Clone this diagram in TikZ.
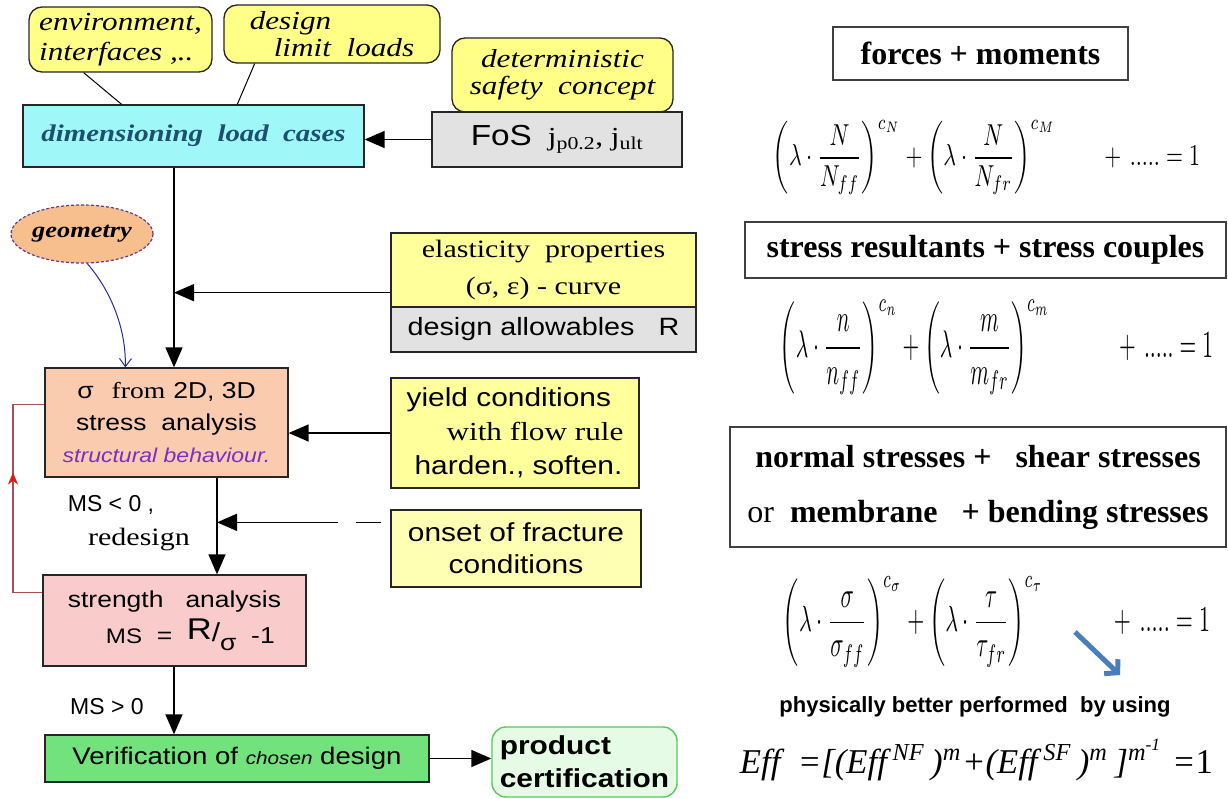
\documentclass[tikz,border=0pt]{standalone}
\usepackage{amsmath}
\usepackage{graphicx}
\usepackage{fontspec}
\setmainfont{Liberation Serif}
\setsansfont{Liberation Sans}
\newfontfamily\Ls{Liberation Sans}[FakeStretch=1.15]
\newfontfamily\Lr{Liberation Serif}[FakeStretch=1.2]
\usetikzlibrary{arrows.meta,calc,shapes.geometric,decorations.markings}
\newcommand\fsz[2]{\fontsize{#1pt}{#2pt}\selectfont}
\definecolor{noteY}{HTML}{FFFF88}
\definecolor{boxY}{HTML}{FFFF9C}
\definecolor{fracY}{HTML}{FFFFB4}
\definecolor{cyanF}{HTML}{9FF7F7}
\definecolor{cyanT}{HTML}{1D4F6E}
\definecolor{grayF}{HTML}{E2E2E2}
\definecolor{geoF}{HTML}{F7BF8E}
\definecolor{geoB}{HTML}{6A3A8A}
\definecolor{sigF}{HTML}{FBCBB0}
\definecolor{strF}{HTML}{F9CBCB}
\definecolor{verF}{HTML}{72E27C}
\definecolor{prodF}{HTML}{E6FBE6}
\definecolor{prodB}{HTML}{5CC85C}
\definecolor{purp}{HTML}{7A2FC0}
\definecolor{fbline}{HTML}{A85050}
\definecolor{fbarr}{HTML}{E01818}
\definecolor{geoA}{HTML}{2A2AB0}
\definecolor{bluA}{HTML}{4A7EBB}
\begin{document}
\begin{tikzpicture}[x=1pt,y=-1pt,
 box/.style={draw=black!85,line width=1.3pt,inner sep=0pt,align=center},
 note/.style={box,rounded corners=13pt,fill=noteY},
 arr/.style={-{Triangle[length=20pt,width=17pt]},line width=1.5pt},
 rbox/.style={draw=black!75,line width=1.6pt,fill=white,inner sep=0pt,align=center,font=\bfseries\fsz{32}{55}},
 lbl/.style={inner sep=0pt,align=center},
]
\fill[white] (0,0) rectangle (1228,798);
\useasboundingbox (0,0) rectangle (1228,798);

% ---------------- left flow ----------------
\node[note,minimum width=183pt,minimum height=65pt,align=left,font=\Lr\itshape\fsz{26}{30}] (env) at (120.5,39.5) {environment,\\interfaces ,..};
\node[note,minimum width=216pt,minimum height=58pt,align=left,font=\Lr\itshape\fsz{26}{27}] (dll) at (332,34) {design\\\hspace*{24pt}limit\ \ loads};
\node[note,minimum width=221pt,minimum height=74pt,font=\Lr\itshape\fsz{26}{27}] (det) at (562.5,75) {deterministic\\safety\ \ concept};

\node[box,fill=cyanF,minimum width=341pt,minimum height=62pt,font=\Lr\bfseries\itshape\fsz{24}{28},text=cyanT] (cyan) at (193.5,136) {dimensioning\ \ load\ \ cases};
\node[box,fill=grayF,minimum width=250pt,minimum height=55pt] (fos) at (557,139.5) {{\Ls\fsz{29}{30}FoS}\hspace{16pt}{\Lr\fsz{26}{30}j\textsubscript{p0.2}, j\textsubscript{ult}}};

\node[ellipse,draw=geoB,dash pattern=on 3pt off 2pt,line width=1.2pt,fill=geoF,minimum width=142pt,minimum height=58pt,inner sep=0pt,font=\Lr\bfseries\itshape\fsz{22}{24}] (geo) at (82,234) {geometry};

\node[box,fill=boxY,minimum width=305pt,minimum height=74pt,font=\Lr\fsz{25}{37}] (elas) at (543.5,270) {elasticity\ \ properties\\(σ, ε) - curve};
\node[box,fill=grayF,minimum width=305pt,minimum height=45pt,font=\Ls\fsz{25}{30}] (allow) at (543.5,329.5) {design allowables\hspace{24pt}R};

\node[box,fill=sigF,minimum width=243pt,minimum height=109pt,font=\Ls\fsz{23}{32}] (sig) at (166.5,422.5) {σ\hspace{18pt}{\Lr from}\hspace{8pt}2D, 3D\\stress\ \ analysis\\{\itshape\fsz{20}{32}\color{purp}structural behaviour.}};

\node[box,fill=boxY,minimum width=248pt,minimum height=110pt,align=left,font=\Ls\fsz{26}{34}] (yield) at (515,433) {yield conditions\\\hspace*{40pt}{\Lr with flow rule}\\\hspace*{8pt}harden., soften.};

\node[box,fill=fracY,minimum width=250pt,minimum height=77pt,font=\Ls\fsz{26}{32}] (frac) at (516,548.5) {onset of fracture\\conditions};

\node[box,fill=strF,minimum width=263pt,minimum height=91pt,align=left,font=\Ls\fsz{23}{36}] (str) at (174.5,620.5) {strength\ \ \ analysis\\\hspace*{38pt}{\fsz{21}{36}MS}\ \ =\ \ \raisebox{4pt}{\fsz{30}{36}R}\raisebox{2pt}{\fsz{26}{36}/}\raisebox{-7pt}{σ}\ \ -1};

\node[box,fill=verF,minimum width=384pt,minimum height=47pt,font=\Ls\fsz{24}{28}] (ver) at (237,758.5) {Verification of {\itshape\fsz{18}{28}chosen} design};

\node[box,rounded corners=14pt,draw=prodB,fill=prodF,line width=1.4pt,minimum width=185pt,minimum height=70pt,align=left,font=\Ls\bfseries\fsz{26}{33}] (prod) at (584.5,762) {product\\certification};

\node[lbl,font=\sffamily\fsz{23}{26}] (ms1) at (111,505) {MS < 0 ,};
\node[lbl,font=\Lr\fsz{25}{28}] (rd) at (139,540) {redesign};
\node[lbl,font=\sffamily\fsz{23}{26}] (ms2) at (107,707) {MS > 0};

% connectors
\coordinate (mx) at (174,0);
\coordinate (sx) at (217,0);
\coordinate (fbx) at (13,0);
\draw[line width=1pt] ($(env.south west)!0.30!(env.south east)$) -- ($(cyan.north west)!0.29!(cyan.north east)$);
\draw[line width=1pt] ($(dll.south west)!0.144!(dll.south east)$) -- ($(cyan.north west)!0.628!(cyan.north east)$);
\draw[arr] (fos.west) -- (fos.west -| cyan.east);
\draw[arr] (cyan.south -| mx) -- (sig.north -| mx);
\coordinate (ea) at ($(elas.south west)+(0,-15)$);
\draw[arr] (ea) -- (ea -| mx);
\draw[geoA,line width=1pt,-{Straight Barb[length=8pt,width=12pt]}] (geo.-80) .. controls (112,292) and (126,330) .. ($(sig.north west)+(81,0)$);
\draw[arr] (yield.west) -- (yield.west -| sig.east);
\draw[arr] (sig.south -| sx) -- (str.north -| sx);
\coordinate (fa) at ($(frac.north west)+(0,13)$);
\draw[arr,dash pattern=on 0pt off 9pt on 25pt off 18pt on 400pt] (fa) -- (fa -| sx);
\coordinate (fbA) at ($(str.north west)+(0,18)$);
\coordinate (fbB) at ($(sig.north west)+(0,37)$);
\draw[fbline,line width=1.2pt,postaction={decorate},decoration={markings,mark=at position 0.6 with {\arrow[fbarr]{Stealth[length=12pt,width=10pt]}}}] (fbA) -- (fbA -| fbx) -- (fbB -| fbx) -- (fbB);
\draw[arr] (str.south -| mx) -- (ver.north -| mx);
\draw[arr] (ver.east) -- (ver.east -| prod.west);

% ---------------- right side ----------------
\node[rbox,minimum width=295pt,minimum height=53pt] (fm) at (980.5,53.5) {forces + moments};
\node[inner sep=0pt] (eq1) at (986.5,157.5) {\resizebox*{427pt}{75pt}{$\displaystyle \left(\lambda\cdot\frac{N}{N_{ff}}\right)^{c_N} + \left(\lambda\cdot\frac{N}{N_{fr}}\right)^{c_M}\qquad +\,.....=1$}};
\node[rbox,minimum width=481pt,minimum height=56pt] (sr) at (985.5,250) {stress resultants + stress couples};
\node[inner sep=0pt] (eq2) at (996.5,347.5) {\resizebox*{433pt}{95pt}{$\displaystyle\left(\lambda\cdot\frac{n}{n_{ff}}\right)^{c_n} + \left(\lambda\cdot\frac{m}{m_{fr}}\right)^{c_m}\qquad\quad +\,.....=1$}};
\node[rbox,minimum width=496pt,minimum height=120pt] (ns) at (978,487) {normal stresses +\ \ \ shear stresses\\{\mdseries or}\ \ membrane\ \ \ + bending stresses};
\node[inner sep=0pt] (eq3) at (996.5,622) {\resizebox*{427pt}{90pt}{$\displaystyle\left(\lambda\cdot\frac{\sigma}{\sigma_{ff}}\right)^{c_\sigma} + \left(\lambda\cdot\frac{\tau}{\tau_{fr}}\right)^{c_\tau}\qquad\quad +\,.....=1$}};
\coordinate (ba1) at (1075,632);
\coordinate (ba2) at (1120,675);
\draw[bluA,line width=5pt,-{Straight Barb[length=9pt,width=20pt]}] (ba1) -- (ba2);
\node[lbl,font=\sffamily\bfseries\fsz{22}{26}] (phys) at (975,707) {physically better performed\ \ by using};
\node[inner sep=0pt] (eff) at (976.5,760) {\resizebox*{473pt}{42pt}{\itshape Eff\ \ =[(Eff\,\textsuperscript{NF}\,)\textsuperscript{m}+(Eff\,\textsuperscript{SF}\,)\textsuperscript{m}\,]\textsuperscript{m\textsuperscript{-1}}\ =\upshape 1}};
\end{tikzpicture}
\end{document}
